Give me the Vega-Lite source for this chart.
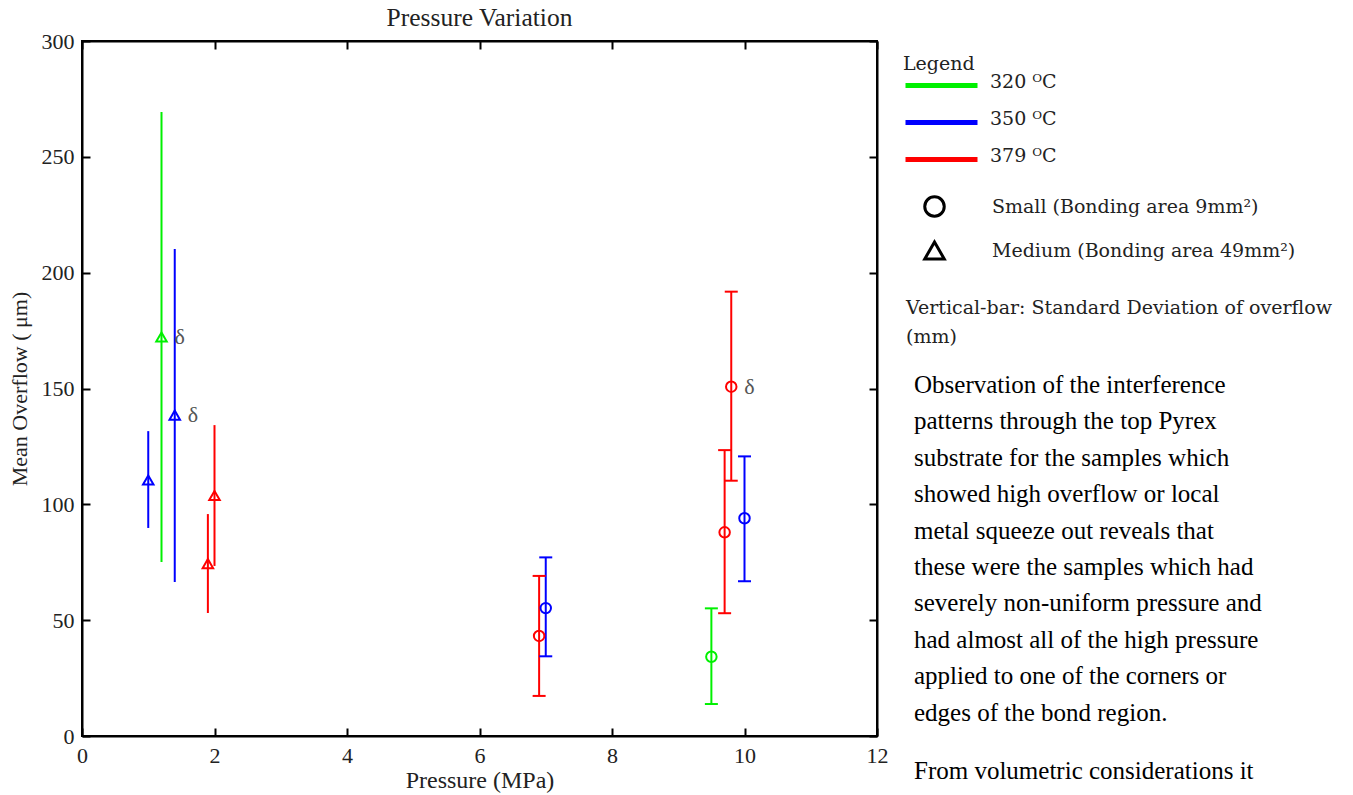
{
  "$schema": "https://vega.github.io/schema/vega-lite/v6.json",
  "background": "white",
  "padding": {"left": 7, "top": 4, "right": 0, "bottom": 0},
  "bounds": "flush",
  "spacing": 29,
  "config": {"view": {"stroke": null}, "font": "Liberation Serif"},
  "datasets": {
    "obs": [
      {"temp": "350 ᴼC", "size": "Medium", "pressure": 1.0, "mean": 110.5, "lo": 89.8, "hi": 131.6, "note": ""},
      {"temp": "320 ᴼC", "size": "Medium", "pressure": 1.2, "mean": 172.2, "lo": 75.1, "hi": 269.3, "note": "δ"},
      {"temp": "350 ᴼC", "size": "Medium", "pressure": 1.4, "mean": 138.5, "lo": 66.5, "hi": 210.2, "note": "δ"},
      {"temp": "379 ᴼC", "size": "Medium", "pressure": 1.9, "mean": 74.4, "lo": 53.1, "hi": 95.8, "note": ""},
      {"temp": "379 ᴼC", "size": "Medium", "pressure": 2.0, "mean": 103.8, "lo": 73.4, "hi": 134.2, "note": ""},
      {"temp": "379 ᴼC", "size": "Small", "pressure": 6.9, "mean": 43.2, "lo": 17.3, "hi": 69.1, "note": ""},
      {"temp": "350 ᴼC", "size": "Small", "pressure": 7.0, "mean": 55.2, "lo": 34.4, "hi": 77.1, "note": ""},
      {"temp": "320 ᴼC", "size": "Small", "pressure": 9.5, "mean": 34.2, "lo": 13.8, "hi": 55.1, "note": ""},
      {"temp": "379 ᴼC", "size": "Small", "pressure": 9.7, "mean": 87.9, "lo": 53.0, "hi": 123.4, "note": ""},
      {"temp": "379 ᴼC", "size": "Small", "pressure": 9.8, "mean": 150.8, "lo": 110.2, "hi": 191.8, "note": "δ"},
      {"temp": "350 ᴼC", "size": "Small", "pressure": 10.0, "mean": 94.0, "lo": 66.8, "hi": 120.7, "note": ""}
    ],
    "notes": [
      {"block": "note", "order": 1, "text": "Vertical-bar: Standard Deviation of overflow\n(mm)"},
      {"block": "para", "order": 2, "text": "Observation of the interference\npatterns through the top Pyrex\nsubstrate for the samples which\nshowed high overflow or local\nmetal squeeze out reveals that\nthese were the samples which had\nseverely non-uniform pressure and\nhad almost all of the high pressure\napplied to one of the corners or\nedges of the bond region."},
      {"block": "para", "order": 3, "text": "From volumetric considerations it"}
    ]
  },
  "hconcat": [
    {
      "width": 795,
      "height": 695,
      "title": {"text": "Pressure Variation", "frame": "group", "fontSize": 25.5, "font": "Liberation Serif", "fontWeight": "normal", "color": "#222", "offset": -1},
      "view": {"stroke": "black", "strokeWidth": 2},
      "data": {"name": "obs"},
      "layer": [
        {
          "mark": {"type": "rule", "strokeWidth": 2},
          "encoding": {
            "x": {"field": "pressure", "type": "quantitative",
              "scale": {"domain": [0, 12], "nice": false, "zero": false},
              "axis": {"title": "Pressure (MPa)", "values": [0, 2, 4, 6, 8, 10, 12], "grid": false, "labelFlush": false,
                "domainColor": "black", "domainWidth": 2, "tickColor": "black", "tickWidth": 2, "tickSize": -8,
                "labelFont": "Liberation Serif", "labelFontSize": 22, "labelColor": "#222", "labelPadding": 17,
                "titleFont": "Liberation Serif", "titleFontSize": 24, "titleFontWeight": "normal", "titleColor": "#222", "titlePadding": 2}},
            "y": {"field": "lo", "type": "quantitative",
              "scale": {"domain": [0, 300], "nice": false},
              "axis": {"title": "Mean Overflow ( μm)", "values": [0, 50, 100, 150, 200, 250, 300], "grid": false, "labelFlush": false,
                "domainColor": "black", "domainWidth": 2, "tickColor": "black", "tickWidth": 2, "tickSize": -8,
                "labelFont": "Liberation Serif", "labelFontSize": 22, "labelColor": "#222", "labelPadding": 16,
                "titleFont": "Liberation Serif", "titleFontSize": 22, "titleFontWeight": "normal", "titleColor": "#222", "titlePadding": 10}},
            "y2": {"field": "hi"},
            "color": {"field": "temp", "type": "nominal",
              "scale": {"domain": ["320 ᴼC", "350 ᴼC", "379 ᴼC"], "range": ["#00f000", "#0000ff", "#ff0000"]},
              "legend": {"title": "Legend", "orient": "none", "legendX": 821, "legendY": 14,
                "symbolType": "M-1,0L5,0", "symbolSize": 576, "symbolStrokeWidth": 5, "symbolOpacity": 1,
                "labelFont": "DejaVu Serif", "labelFontSize": 19, "labelColor": "#222", "labelOffset": 58, "labelLimit": 400,
                "titleFont": "DejaVu Serif", "titleFontSize": 19, "titleFontWeight": "normal", "titleColor": "#222", "titlePadding": -3,
                "rowPadding": 12,
                "encode": {
                  "labels": {"update": {"dy": {"value": -4}}}
                }}}
          }
        },
        {
          "transform": [{"filter": {"field": "size", "equal": "Small"}}],
          "mark": {"type": "tick", "orient": "horizontal", "size": 13, "thickness": 2, "opacity": 1},
          "encoding": {
            "x": {"field": "pressure", "type": "quantitative", "axis": null},
            "y": {"field": "hi", "type": "quantitative", "axis": null},
            "color": {"field": "temp", "type": "nominal"}
          }
        },
        {
          "transform": [{"filter": {"field": "size", "equal": "Small"}}],
          "mark": {"type": "tick", "orient": "horizontal", "size": 13, "thickness": 2, "opacity": 1},
          "encoding": {
            "x": {"field": "pressure", "type": "quantitative", "axis": null},
            "y": {"field": "lo", "type": "quantitative", "axis": null},
            "color": {"field": "temp", "type": "nominal"}
          }
        },
        {
          "mark": {"type": "point", "filled": false, "strokeWidth": 2, "size": 110, "opacity": 1},
          "encoding": {
            "x": {"field": "pressure", "type": "quantitative", "axis": null},
            "y": {"field": "mean", "type": "quantitative", "axis": null},
            "color": {"field": "temp", "type": "nominal"},
            "shape": {"field": "size", "type": "nominal",
              "scale": {"domain": ["Small", "Medium"], "range": ["circle", "triangle-up"]},
              "legend": {"title": null, "orient": "none", "legendX": 841, "legendY": 154,
                "symbolSize": 380, "symbolStrokeWidth": 3, "symbolStrokeColor": "black", "symbolFillColor": "transparent", "symbolOpacity": 1,
                "labelExpr": "datum.label == 'Small' ? 'Small (Bonding area 9mm²)' : 'Medium (Bonding area 49mm²)'",
                "labelFont": "DejaVu Serif", "labelFontSize": 19, "labelColor": "#222", "labelOffset": 46, "labelLimit": 400, "rowPadding": 13}}
          }
        },
        {
          "transform": [{"filter": {"field": "note", "equal": "δ"}}],
          "mark": {"type": "text", "align": "left", "baseline": "middle", "dx": 13, "font": "Liberation Serif", "fontSize": 22, "color": "#555"},
          "encoding": {
            "x": {"field": "pressure", "type": "quantitative", "axis": null},
            "y": {"field": "mean", "type": "quantitative", "axis": null},
            "text": {"field": "note"}
          }
        },
        {
          "mark": {"type": "point", "opacity": 0},
          "encoding": {
            "x": {"field": "pressure", "type": "quantitative",
              "axis": {"orient": "top", "title": null, "labels": false, "values": [0, 2, 4, 6, 8, 10, 12], "grid": false,
                "domainColor": "black", "domainWidth": 2, "tickColor": "black", "tickWidth": 2, "tickSize": -8}},
            "y": {"field": "mean", "type": "quantitative",
              "axis": {"orient": "right", "title": null, "labels": false, "values": [0, 50, 100, 150, 200, 250, 300], "grid": false,
                "domainColor": "black", "domainWidth": 2, "tickColor": "black", "tickWidth": 2, "tickSize": -8}}
          }
        }
      ],
      "resolve": {"axis": {"x": "independent", "y": "independent"}}
    },
    {
      "width": 440,
      "height": 753,
      "view": {"stroke": null},
      "data": {"name": "notes"},
      "layer": [
        {
          "transform": [{"filter": {"field": "block", "equal": "note"}}],
          "mark": {"type": "text", "align": "left", "baseline": "top", "font": "DejaVu Serif", "fontSize": 19, "lineBreak": "\n", "lineHeight": 29, "color": "#222"},
          "encoding": {
            "x": {"value": 0},
            "y": {"field": "order", "type": "quantitative", "scale": {"domain": [1, 2, 3], "range": [258, 332, 718]}, "axis": null},
            "text": {"field": "text"}
          }
        },
        {
          "transform": [{"filter": {"field": "block", "equal": "para"}}],
          "mark": {"type": "text", "align": "left", "baseline": "top", "dx": 8, "font": "Liberation Serif", "fontSize": 25, "lineBreak": "\n", "lineHeight": 36.4, "color": "black"},
          "encoding": {
            "x": {"value": 0},
            "y": {"field": "order", "type": "quantitative", "axis": null},
            "text": {"field": "text"}
          }
        }
      ]
    }
  ]
}
